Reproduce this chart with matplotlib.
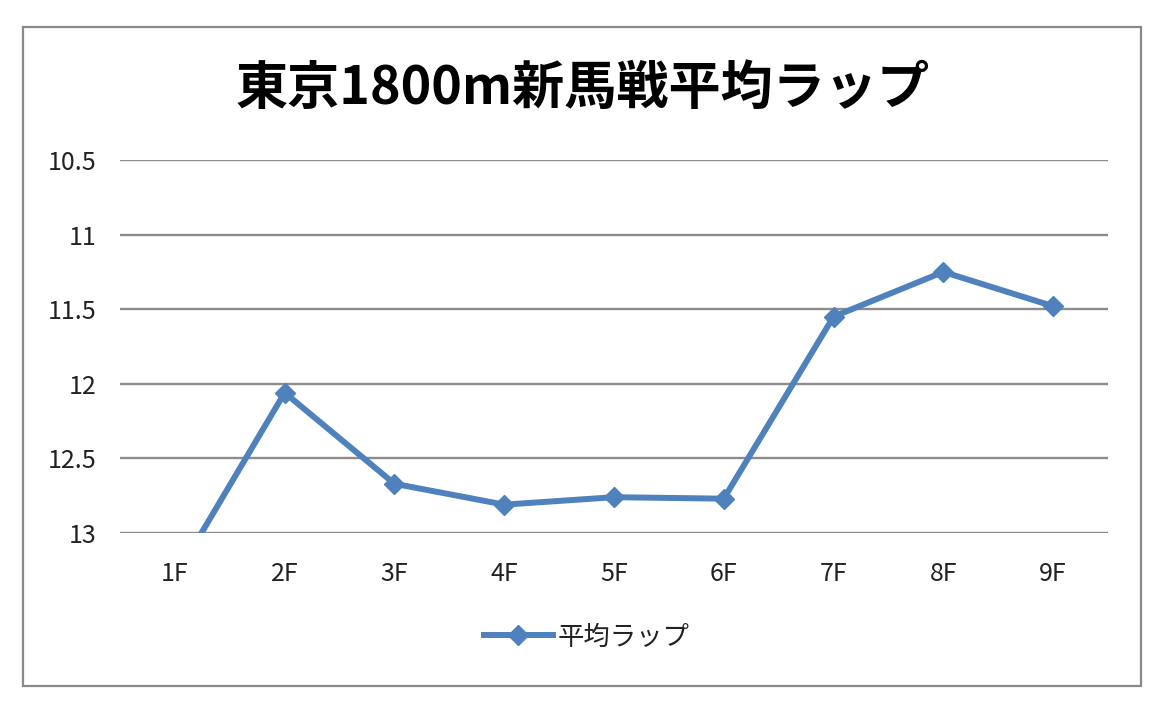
import matplotlib
matplotlib.use('Agg')
import matplotlib.pyplot as plt
from matplotlib.patches import Rectangle

plt.rcParams['font.family'] = ['Noto Sans CJK JP', 'DejaVu Sans']

# data (y axis is inverted)
laps = ['1F', '2F', '3F', '4F', '5F', '6F', '7F', '8F', '9F']
avg_lap = [13.30, 12.06, 12.67, 12.81, 12.76, 12.77, 11.55, 11.25, 11.48]
yticks = [10.5, 11, 11.5, 12, 12.5, 13]
ytick_labels = ['10.5', '11', '11.5', '12', '12.5', '13']

title = '東京1800m新馬戦平均ラップ'
series_name = '平均ラップ'
blue = '#4f81bd'

fig = plt.figure(figsize=(11.69, 7.15), dpi=100)
fig.patches.append(Rectangle((23 / 1169, 1 - 686 / 715), 1118 / 1169, 659 / 715,
                             transform=fig.transFigure, fill=False,
                             edgecolor='#8a8a8a', linewidth=1.6))

# axes area in pixels: x 120..1108, y 160..533
ax = fig.add_axes([120 / 1169, 1 - 533 / 715, 988 / 1169, 373 / 715])
x = list(range(len(laps)))
ax.plot(x, avg_lap, color=blue, linewidth=4.3, marker='D', markersize=10,
        label=series_name, zorder=3)
ax.set_xlim(-0.5, len(laps) - 0.5)
ax.set_ylim(13, 10.5)
ax.set_yticks(yticks)
ax.set_yticklabels(ytick_labels)
ax.set_xticks(x)
ax.set_xticklabels(laps)
ax.grid(axis='y', color='#8c8c8c', linewidth=1.7, zorder=1)
for s in ax.spines.values():
    s.set_visible(False)
ax.tick_params(axis='both', length=0, labelsize=18, colors='#222222')
ax.tick_params(axis='y', pad=17)
ax.tick_params(axis='x', pad=20)

fig.text(583 / 1169, 1 - 88 / 715, title, ha='center', va='center',
         fontsize=37.5, fontweight='bold', color='black')

leg = ax.legend(loc='center', bbox_to_anchor=(587 / 1169, 1 - 637 / 715),
                bbox_transform=fig.transFigure, frameon=False, fontsize=19,
                handlelength=2.6, handletextpad=0.2)
for t in leg.get_texts():
    t.set_color('#222222')

fig.savefig('out.png', dpi=100)
